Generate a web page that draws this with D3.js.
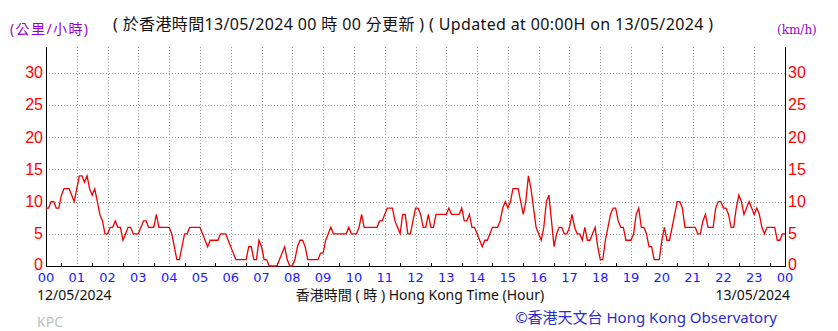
<!DOCTYPE html>
<html>
<head>
<meta charset="utf-8">
<script src="https://cdn.jsdelivr.net/npm/d3@7"></script>
<style>
  body { margin: 0; background: #fff; }
  svg { display: block; }
</style>
</head>
<body>
<svg id="chart" width="838" height="331"></svg>
<script>
// wind speed (km/h), 5-minute readings from 00:00 on 12/05/2024 to 00:00 on 13/05/2024
const speeds = [
  9, 9, 10, 10, 9, 9, 11, 12, 12, 12, 11, 10,   // 00
  12, 14, 14, 13, 14, 12, 11, 12, 10, 8, 7, 5,  // 01
  5, 6, 6, 7, 6, 6, 4, 5, 6, 6, 5, 5,           // 02
  5, 6, 7, 7, 6, 6, 6, 8, 6, 6, 6, 6,           // 03
  6, 5, 3, 1, 1, 3, 5, 5, 6, 6, 6, 6,           // 04
  6, 5, 4, 3, 4, 4, 4, 4, 5, 5, 5, 4,           // 05
  3, 2, 1, 1, 1, 1, 1, 3, 3, 1, 1, 4,           // 06
  3, 1, 1, 0, 0, 0, 0, 1, 2, 3, 1, 0,           // 07
  0, 1, 3, 4, 4, 3, 1, 1, 1, 1, 1, 2,           // 08
  2, 4, 5, 6, 5, 5, 5, 5, 5, 5, 6, 5,           // 09
  5, 5, 6, 8, 6, 6, 6, 6, 6, 6, 7, 7,           // 10
  8, 9, 9, 9, 7, 6, 5, 8, 8, 5, 5, 7,           // 11
  9, 9, 8, 6, 6, 8, 6, 6, 8, 8, 8, 8,           // 12
  8, 9, 8, 8, 8, 8, 9, 7, 7, 8, 6, 6,           // 13
  5, 4, 3, 4, 4, 5, 6, 6, 6, 7, 9, 10,          // 14
  9, 10, 12, 12, 12, 10, 8, 10, 14, 12, 9, 6,   // 15
  5, 4, 6, 10, 11, 7, 3, 5, 6, 6, 5, 5,         // 16
  6, 8, 6, 5, 5, 4, 6, 4, 4, 5, 6, 3,           // 17
  1, 1, 4, 6, 8, 9, 9, 7, 6, 6, 4, 4,           // 18
  4, 5, 8, 9, 6, 6, 5, 3, 3, 1, 1, 1,           // 19
  4, 6, 4, 4, 6, 8, 10, 10, 9, 6, 6, 6,         // 20
  6, 6, 5, 5, 7, 8, 6, 6, 6, 9, 10, 10,         // 21
  9, 9, 8, 6, 6, 9, 11, 10, 8, 9, 10, 9,        // 22
  8, 9, 8, 6, 5, 6, 6, 6, 6, 4, 4, 5,           // 23
  5
];
const stepMinutes = 5;

const hourLabels = ["00","01","02","03","04","05","06","07","08","09","10","11",
                    "12","13","14","15","16","17","18","19","20","21","22","23","00"];
const yTicks = [0, 5, 10, 15, 20, 25, 30];

const svg = d3.select("#chart");
const plotLeft = 46, plotRight = 785, plotTop = 47, plotBottom = 266;

const x = d3.scaleLinear().domain([0, 24]).range([plotLeft, plotRight]);
const y = d3.scaleLinear().domain([0, 34]).range([plotBottom, plotTop]);

const cjk = "'Noto Sans', 'Noto Sans CJK TC', sans-serif";

// grid
svg.append("g")
  .selectAll("line")
  .data(d3.range(1, 24))
  .join("line")
  .attr("x1", d => Math.round(x(d)) + 0.5).attr("x2", d => Math.round(x(d)) + 0.5)
  .attr("y1", plotTop).attr("y2", plotBottom)
  .attr("stroke", "#999").attr("stroke-dasharray", "1,2");

svg.append("g")
  .selectAll("line")
  .data(yTicks.filter(d => d > 0))
  .join("line")
  .attr("x1", plotLeft).attr("x2", plotRight)
  .attr("y1", d => Math.round(y(d)) + 0.5).attr("y2", d => Math.round(y(d)) + 0.5)
  .attr("stroke", "#999").attr("stroke-dasharray", "1,2");

// half-hour ticks on the bottom axis
svg.append("g")
  .selectAll("line")
  .data(d3.range(0.5, 24, 1))
  .join("line")
  .attr("x1", d => Math.round(x(d)) + 0.5).attr("x2", d => Math.round(x(d)) + 0.5)
  .attr("y1", plotBottom).attr("y2", plotBottom - 3)
  .attr("stroke", "#000");

// axes frame
svg.append("line").attr("x1", plotLeft + 0.5).attr("x2", plotLeft + 0.5).attr("y1", plotTop).attr("y2", plotBottom + 0.5).attr("stroke", "#000");
svg.append("line").attr("x1", plotRight + 0.5).attr("x2", plotRight + 0.5).attr("y1", plotTop).attr("y2", plotBottom + 0.5).attr("stroke", "#000");
svg.append("line").attr("x1", plotLeft).attr("x2", plotRight + 1).attr("y1", plotBottom + 0.5).attr("y2", plotBottom + 0.5).attr("stroke", "#000");

// y labels
const yFont = "'Liberation Sans', Arial, sans-serif";
svg.append("g")
  .selectAll("text")
  .data(yTicks)
  .join("text")
  .attr("x", plotLeft - 3).attr("y", d => y(d) + (d === 0 ? 3.5 : 5.5))
  .attr("text-anchor", "end")
  .attr("font-family", yFont).attr("font-size", 16).attr("fill", "#ff0000")
  .text(d => d);

svg.append("g")
  .selectAll("text")
  .data(yTicks)
  .join("text")
  .attr("x", plotRight + 3).attr("y", d => y(d) + (d === 0 ? 3.5 : 5.5))
  .attr("font-family", yFont).attr("font-size", 16).attr("fill", "#ff0000")
  .text(d => d);

// x labels
svg.append("g")
  .selectAll("text")
  .data(hourLabels)
  .join("text")
  .attr("x", (d, i) => x(i)).attr("y", 282)
  .attr("text-anchor", "middle")
  .attr("font-family", "'DejaVu Sans', sans-serif").attr("font-size", 13).attr("fill", "#1a1aff")
  .text(d => d);

// line
const line = d3.line()
  .x((d, i) => x(i * stepMinutes / 60))
  .y(d => y(d));

svg.append("path")
  .datum(speeds)
  .attr("d", line)
  .attr("fill", "none")
  .attr("stroke", "#ee0000")
  .attr("stroke-width", 1.3);

// titles
svg.append("text").attr("x", 10).attr("y", 34)
  .attr("font-family", cjk).attr("font-size", 14).attr("fill", "#9900cc")
  .attr("textLength", 78).attr("lengthAdjust", "spacing")
  .text("(公里/小時)");
svg.append("text").attr("x", 777).attr("y", 34)
  .attr("font-family", "'DejaVu Serif', serif").attr("font-size", 12).attr("fill", "#9900cc")
  .text("(km/h)");
svg.append("text").attr("x", 113).attr("y", 30)
  .attr("font-family", cjk).attr("font-size", 16).attr("fill", "#111")
  .attr("textLength", 600).attr("lengthAdjust", "spacing")
  .text("( 於香港時間13/05/2024 00 時 00 分更新 ) ( Updated at 00:00H on 13/05/2024 )");

// bottom texts
svg.append("text").attr("x", 37).attr("y", 300)
  .attr("font-family", cjk).attr("font-size", 14).attr("fill", "#111")
  .text("12/05/2024");
svg.append("text").attr("x", 790).attr("y", 300).attr("text-anchor", "end")
  .attr("font-family", cjk).attr("font-size", 14).attr("fill", "#111")
  .text("13/05/2024");
svg.append("text").attr("x", 420).attr("y", 300).attr("text-anchor", "middle")
  .attr("font-family", cjk).attr("font-size", 14).attr("fill", "#111")
  .text("香港時間 ( 時 ) Hong Kong Time (Hour)");
svg.append("text").attr("x", 37).attr("y", 327)
  .attr("font-family", cjk).attr("font-size", 14).attr("fill", "#c0c0c0")
  .text("KPC");
svg.append("text").attr("x", 777).attr("y", 323).attr("text-anchor", "end")
  .attr("font-family", cjk).attr("font-size", 15).attr("fill", "#2a2ad0")
  .text("©香港天文台 Hong Kong Observatory");
</script>
</body>
</html>
